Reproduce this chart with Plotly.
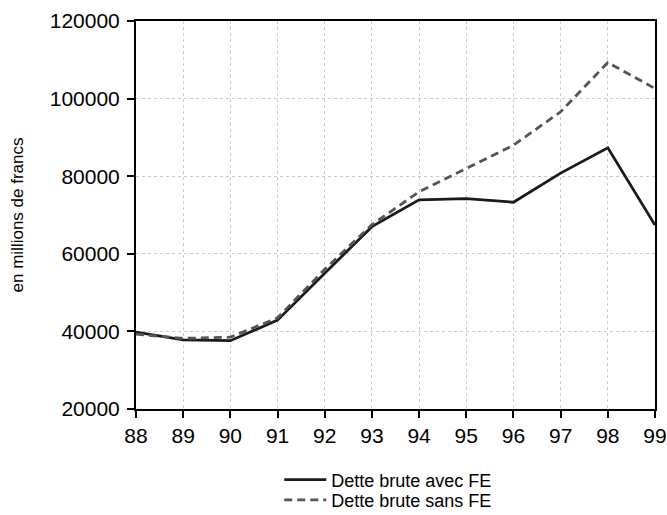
import plotly.graph_objects as go

# years (two-digit) and debt values, millions of francs
years = [88, 89, 90, 91, 92, 93, 94, 95, 96, 97, 98, 99]
avec_fe = [39800, 37800, 37600, 42900, 55000, 67000, 73900, 74200, 73300, 80800, 87300, 67400]
sans_fe = [39300, 38200, 38500, 43500, 56000, 67500, 76000, 82100, 88000, 96600, 109300, 102600]
y_ticks = [20000, 40000, 60000, 80000, 100000, 120000]

fig = go.Figure()
fig.add_trace(go.Scatter(
    x=years, y=avec_fe, mode='lines', name='Dette brute avec FE',
    line=dict(color='#1a1a1a', width=2.8), legend='legend'
))
fig.add_trace(go.Scatter(
    x=years, y=sans_fe, mode='lines', name='Dette brute sans FE',
    line=dict(color='#555555', width=2.8, dash='8px,5px'), legend='legend2'
))

axis_common = dict(
    showline=True, linecolor='black', linewidth=2, mirror=True,
    ticks='outside', ticklen=7, tickwidth=1.5, tickcolor='black',
    showgrid=True, gridcolor='#cccccc', gridwidth=1, griddash='3px,3px',
    zeroline=False, tickfont=dict(size=21, color='black'),
)

fig.update_xaxes(range=[88, 99], tickvals=years, **axis_common)
fig.update_yaxes(
    range=[20000, 120000], tickvals=y_ticks, tickformat='d', ticklabelstandoff=3,
    title=dict(text='en millions de francs', font=dict(size=17, color='black'), standoff=22),
    **axis_common
)

# one legend per trace so the two rows sit 20px apart like the reference
leg = dict(xanchor='left', yanchor='middle', font=dict(size=18),
           itemwidth=42, bgcolor='rgba(0,0,0,0)')
fig.update_layout(
    width=667, height=515,
    margin=dict(l=136, r=12, t=21, b=106, autoexpand=False),
    paper_bgcolor='white', plot_bgcolor='white',
    font=dict(family='Liberation Sans, Arial, sans-serif', color='black'),
    showlegend=True,
    legend=dict(x=0.276, y=-0.183, **leg),
    legend2=dict(x=0.276, y=-0.235, **leg),
)

# drop the default page margin so the figure sits at the window's corner
fig.write_html("out.html", config={'displayModeBar': False},
               post_script="document.body.style.margin='0';")
